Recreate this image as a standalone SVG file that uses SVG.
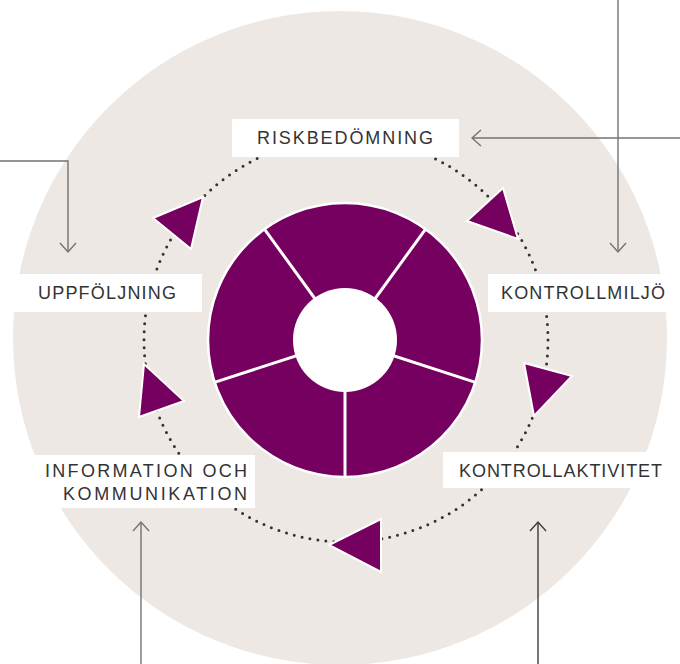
<svg xmlns="http://www.w3.org/2000/svg" width="680" height="664" viewBox="0 0 680 664">
<style>
.lbl{font-family:"Liberation Sans","DejaVu Sans",sans-serif;font-size:18px;fill:#333;}
.box{fill:#fff;}
.tri{fill:#750060;stroke:#fff;stroke-width:2;stroke-linejoin:miter;}
.con{fill:none;stroke:#737373;stroke-width:1.4;}
</style>
<rect width="680" height="664" fill="#fff"/>
<circle id="background" cx="340" cy="338" r="327" fill="#ede8e4"/>
<circle id="cycle" cx="346" cy="340" r="202" fill="none" stroke="#333" stroke-width="3" stroke-dasharray="0 8.033" stroke-linecap="round"/>
<g id="donut">
<circle cx="345" cy="340" r="137" fill="#750060" stroke="#fff" stroke-width="2.5"/>
<g stroke="#fff" stroke-width="3">
<line x1="345" y1="340" x2="476.3" y2="382.6"/>
<line x1="345" y1="340" x2="345" y2="478"/>
<line x1="345" y1="340" x2="213.7" y2="382.6"/>
<line x1="345" y1="340" x2="263.9" y2="228.4"/>
<line x1="345" y1="340" x2="426.1" y2="228.4"/>
</g>
<circle cx="345" cy="340" r="52" fill="#fff"/>
</g>
<g id="arrows">
<polygon class="tri" points="467,221 503,188 518,239"/>
<polygon class="tri" points="524,363 572,376 534,416"/>
<polygon class="tri" points="329,545 381,519 381,572"/>
<polygon class="tri" points="144,364 184,401 139,417"/>
<polygon class="tri" points="153,218 203,197 191,249"/>
</g>
<g id="connectors">
<polyline class="con" points="0,161 68,161 68,252"/>
<polyline class="con" points="60,243 68,252 76,243"/>
<polyline class="con" points="680,138 472,138"/>
<polyline class="con" points="481,130 472,138 481,146"/>
<polyline class="con" points="618,0 618,252"/>
<polyline class="con" points="610,243 618,252 626,243"/>
<polyline class="con" points="141,664 141,522"/>
<polyline class="con" points="133,531 141,522 149,531"/>
<polyline class="con" style="stroke:#3c3c3c" points="538,664 538,522"/>
<polyline class="con" style="stroke:#3c3c3c" points="530,531 538,522 546,531"/>
</g>
<g id="riskbedomning">
<rect class="box" x="232" y="119" width="227" height="38"/>
<text class="lbl" x="257" y="144" textLength="176" lengthAdjust="spacing">RISKBEDÖMNING</text>
</g>
<g id="uppfoljning">
<rect class="box" x="0" y="274" width="202" height="38"/>
<text class="lbl" x="38" y="299" textLength="138" lengthAdjust="spacing">UPPFÖLJNING</text>
</g>
<g id="kontrollmiljo">
<rect class="box" x="488" y="274" width="192" height="38"/>
<text class="lbl" x="501" y="299" textLength="164" lengthAdjust="spacing">KONTROLLMILJÖ</text>
</g>
<g id="information">
<rect class="box" x="0" y="455" width="255" height="53"/>
<text class="lbl" x="45" y="477" textLength="202" lengthAdjust="spacing">INFORMATION OCH</text>
<text class="lbl" x="63" y="500" textLength="184" lengthAdjust="spacing">KOMMUNIKATION</text>
</g>
<g id="kontrollaktivitet">
<rect class="box" x="443" y="452" width="237" height="36"/>
<text class="lbl" x="459" y="477" textLength="203" lengthAdjust="spacing">KONTROLLAKTIVITET</text>
</g>
</svg>
